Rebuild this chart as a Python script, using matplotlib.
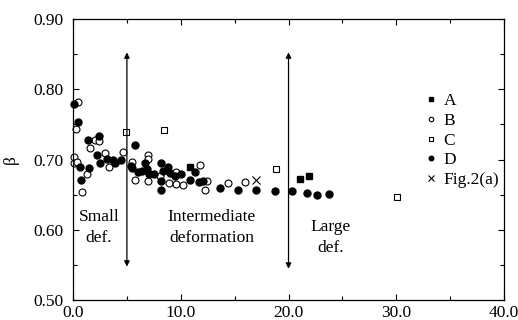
import matplotlib
matplotlib.use("Agg")
import matplotlib.pyplot as plt
from matplotlib.ticker import MultipleLocator, FormatStrFormatter

plt.rcParams['font.family'] = ['Liberation Serif', 'DejaVu Serif']
plt.rcParams['font.size'] = 12.5

# series A: filled squares
a_x = [10.85, 21.05, 21.9]
a_y = [0.689, 0.673, 0.677]

# series B: open circles
b_x = [0.05, 0.1, 0.35, 0.28, 0.49, 0.80, 1.30, 1.58, 2.01, 2.44, 3.0, 3.34,
       4.61, 5.44, 5.75, 6.93, 6.93, 6.93, 8.07, 8.94, 9.55, 9.52, 10.25,
       11.8, 12.46, 12.27, 14.41, 15.96]
b_y = [0.703, 0.695, 0.697, 0.744, 0.781, 0.654, 0.679, 0.717, 0.728, 0.726,
       0.709, 0.690, 0.710, 0.696, 0.671, 0.706, 0.701, 0.669, 0.677, 0.666,
       0.682, 0.665, 0.664, 0.692, 0.669, 0.657, 0.667, 0.668]

# series C: open squares
c_x = [4.92, 8.47, 18.83, 30.03]
c_y = [0.739, 0.742, 0.687, 0.647]

# series D: filled circles
d_x = [0.09, 0.43, 0.65, 0.74, 1.42, 1.48, 2.26, 2.44, 2.53, 3.12, 3.75, 3.9,
       4.48, 5.38, 5.47, 5.72, 6.05, 6.40, 6.70, 6.90, 7.03, 7.53, 8.15, 8.15,
       8.15, 8.38, 8.78, 9.0, 9.48, 10.0, 10.85, 11.3, 11.7, 12.09, 13.64,
       15.34, 16.98, 18.74, 20.34, 21.7, 22.6, 23.8]
d_y = [0.779, 0.753, 0.689, 0.671, 0.728, 0.688, 0.706, 0.733, 0.695, 0.701,
       0.700, 0.695, 0.700, 0.691, 0.688, 0.720, 0.683, 0.684, 0.695, 0.686,
       0.680, 0.680, 0.695, 0.670, 0.657, 0.684, 0.689, 0.681, 0.677, 0.680,
       0.671, 0.682, 0.668, 0.670, 0.659, 0.657, 0.657, 0.655, 0.656, 0.653,
       0.650, 0.651]

# Fig.2(a) point
f_x = [16.98]
f_y = [0.671]

fig = plt.figure(figsize=(5.18, 3.2), dpi=100)
ax = fig.add_axes([0.141, 0.061, 0.832, 0.881])

ax.plot(a_x, a_y, 's', color='black', markersize=4.5, label='A', clip_on=False)
ax.plot(b_x, b_y, 'o', mfc='white', mec='black', mew=0.8, markersize=5, label='B', clip_on=False)
ax.plot(c_x, c_y, 's', mfc='white', mec='black', mew=0.8, markersize=5, label='C', clip_on=False)
ax.plot(d_x, d_y, 'o', color='black', markersize=5, label='D', clip_on=False)
ax.plot(f_x, f_y, 'x', color='black', mew=0.8, markersize=6, label='Fig.2(a)', clip_on=False)

# region arrows
for xa, yb in [(5, 0.548), (20, 0.545)]:
    ax.annotate('', xy=(xa, 0.852), xytext=(xa, yb),
                arrowprops=dict(arrowstyle='<|-|>', color='black', lw=0.9,
                                mutation_scale=8, shrinkA=0, shrinkB=0))

ax.text(2.4, 0.603, 'Small\ndef.', ha='center', va='center', linespacing=1.4)
ax.text(12.85, 0.603, 'Intermediate\ndeformation', ha='center', va='center', linespacing=1.4)
ax.text(23.9, 0.589, 'Large\ndef.', ha='center', va='center', linespacing=1.4)

ax.set_xlim(0, 40)
ax.set_ylim(0.50, 0.90)
ax.xaxis.set_major_locator(MultipleLocator(10))
ax.xaxis.set_minor_locator(MultipleLocator(5))
ax.yaxis.set_major_locator(MultipleLocator(0.1))
ax.yaxis.set_minor_locator(MultipleLocator(0.05))
ax.xaxis.set_major_formatter(FormatStrFormatter('%.1f'))
ax.yaxis.set_major_formatter(FormatStrFormatter('%.2f'))
ax.tick_params(which='both', direction='in', top=True, right=True, width=0.8)
ax.tick_params(which='major', length=4)
ax.tick_params(which='minor', length=3)
ax.tick_params(axis='y', pad=7)
ax.tick_params(axis='x', pad=3)
for s in ax.spines.values():
    s.set_linewidth(0.9)

ax.set_ylabel('β', labelpad=10)

ax.legend(loc='upper left', bbox_to_anchor=(0.815, 0.735), frameon=False,
          borderpad=0, handlelength=0.8, handletextpad=0.3, labelspacing=0.2,
          markerscale=0.65, borderaxespad=0)

fig.savefig('out.png', dpi=100)
